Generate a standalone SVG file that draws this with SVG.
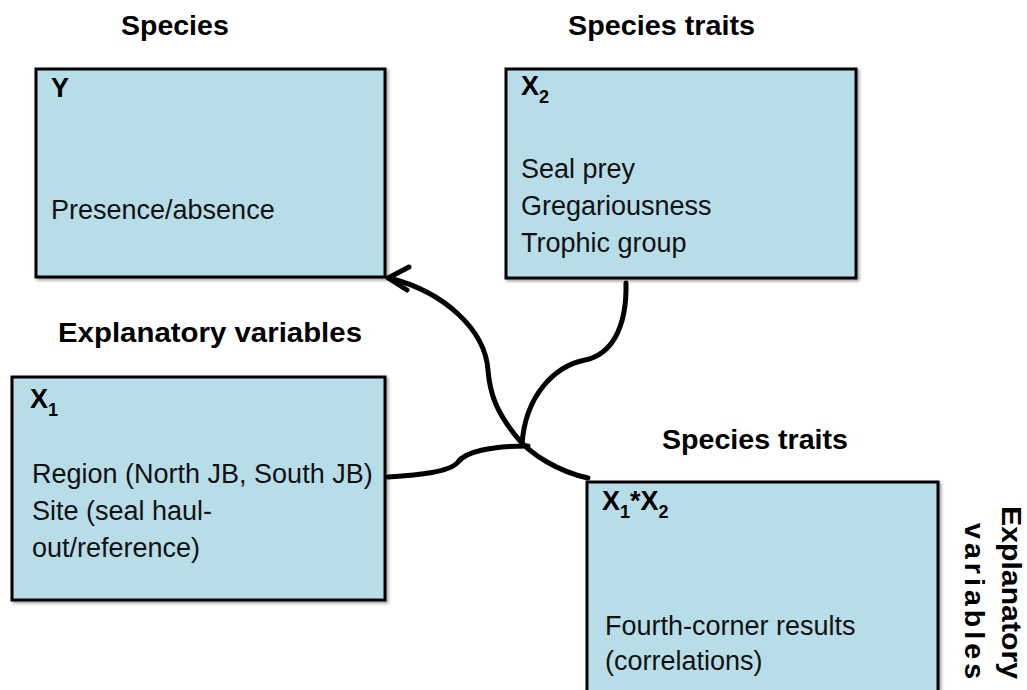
<svg xmlns="http://www.w3.org/2000/svg" width="1027" height="690" viewBox="0 0 1027 690">
<defs>
<filter id="sh" x="-5%" y="-5%" width="115%" height="115%">
<feDropShadow dx="2" dy="2" stdDeviation="1.5" flood-color="#000" flood-opacity="0.35"/>
</filter>
</defs>
<style>
.box{fill:#b7dde8;stroke:#000;stroke-width:3;filter:url(#sh)}
.t{font-family:"Liberation Sans",Arial,sans-serif;font-size:27px;fill:#111}
.b{font-family:"Liberation Sans",Arial,sans-serif;font-size:27px;font-weight:bold;fill:#000}
.h{font-family:"Liberation Sans",Arial,sans-serif;font-size:28.5px;font-weight:bold;fill:#000}
.sub{font-size:18px}
.c{fill:none;stroke:#000;stroke-width:5;stroke-linecap:round;stroke-linejoin:round}
</style>
<rect width="1027" height="690" fill="#fff"/>
<g id="headings">
<text class="h" x="121" y="35">Species</text>
<text class="h" x="568" y="35" textLength="187" lengthAdjust="spacingAndGlyphs">Species traits</text>
<text class="h" x="58" y="342" textLength="304" lengthAdjust="spacingAndGlyphs">Explanatory variables</text>
<text class="h" x="662" y="449" textLength="186" lengthAdjust="spacingAndGlyphs">Species traits</text>
<g transform="translate(1002,679) rotate(90)">
<text class="h" x="0" y="0" text-anchor="end" textLength="173" lengthAdjust="spacingAndGlyphs">Explanatory</text>
<text class="h" x="0" y="37" text-anchor="end" textLength="156" lengthAdjust="spacing">variables</text>
</g>
</g>
<g id="connectors">
<path class="c" d="M588,478 C560,472 530,455 515,435 C497,412 490,395 488,370 C485,330 445,292 389,278"/>
<path class="c" d="M409,267 L388,278 L407,290"/>
<path class="c" d="M626,283 C627,330 610,355 585,360 C555,366 525,395 522,445"/>
<path class="c" d="M388,477 C420,475 450,472 458,462 C465,452 490,446 528,446"/>
</g>
<g id="node-Y">
<rect class="box" x="36" y="69" width="349" height="208"/>
<text class="b" x="51" y="97">Y</text>
<text class="t" x="51" y="219">Presence/absence</text>
</g>
<g id="node-X2">
<rect class="box" x="506" y="69" width="350" height="209"/>
<text class="b" x="521" y="95">X<tspan class="sub" dy="8">2</tspan></text>
<text class="t" x="521" y="178">Seal prey</text>
<text class="t" x="521" y="215">Gregariousness</text>
<text class="t" x="521" y="252">Trophic group</text>
</g>
<g id="node-X1">
<rect class="box" x="12" y="377" width="373" height="223"/>
<text class="b" x="30" y="408">X<tspan class="sub" dy="8">1</tspan></text>
<text class="t" x="32" y="483">Region (North JB, South JB)</text>
<text class="t" x="32" y="520">Site (seal haul-</text>
<text class="t" x="32" y="557">out/reference)</text>
</g>
<g id="node-X1X2">
<rect class="box" x="587" y="482" width="351" height="220"/>
<text class="b" x="602" y="510">X<tspan class="sub" dy="8">1</tspan><tspan dy="-8">*X</tspan><tspan class="sub" dy="8">2</tspan></text>
<text class="t" x="605" y="635">Fourth-corner results</text>
<text class="t" x="605" y="670">(correlations)</text>
</g>
</svg>
